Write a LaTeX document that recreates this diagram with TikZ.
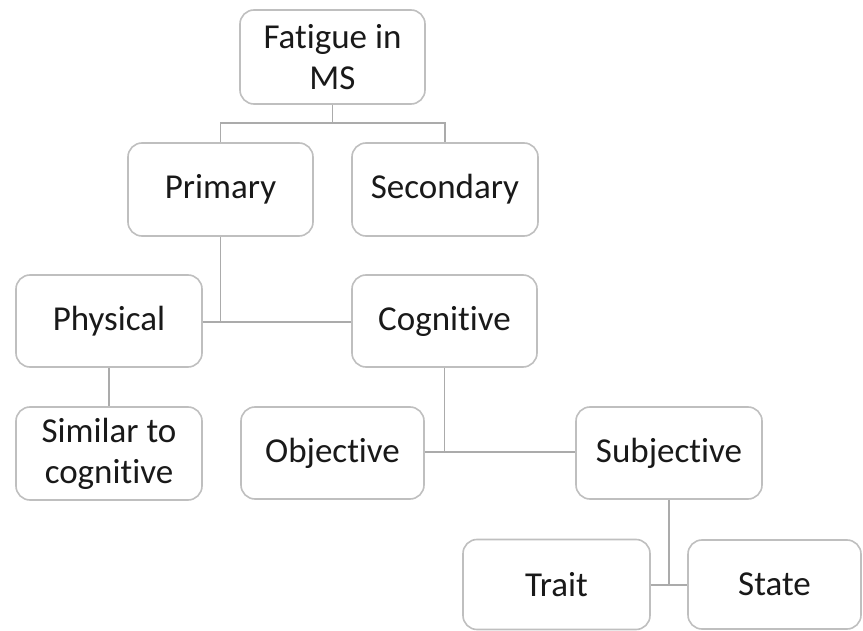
\documentclass[tikz,border=0pt]{standalone}
\usepackage{fontspec}
\setmainfont{Carlito}[RawFeature={-liga,-clig,-dlig,-calt}]
\begin{document}
\begin{tikzpicture}[x=1pt,y=-1pt,
  box/.style={draw=black!25, line width=1.6pt, rounded corners=14pt, fill=white,
    align=center, inner sep=0pt, font=\fontsize{35}{41}\selectfont, text=black!90},
  conn/.style={draw=black!33, line width=1.8pt}]
\useasboundingbox (0,0) rectangle (863,631);
\node[box, minimum width=185, minimum height=94] (fat) at (332.5,57) {Fatigue in\\MS};
\node[box, minimum width=185, minimum height=93] (pri) at (220.5,189.5) {Primary};
\node[box, minimum width=186, minimum height=93] (sec) at (445,189.5) {Secondary};
\node[box, minimum width=186, minimum height=92] (phy) at (109,321) {Physical};
\node[box, minimum width=185, minimum height=92] (cog) at (444.5,321) {Cognitive};
\node[box, minimum width=186, minimum height=93] (sim) at (109,453.5) {Similar to\\cognitive};
\node[box, minimum width=183, minimum height=92] (obj) at (332.5,453) {Objective};
\node[box, minimum width=186, minimum height=92] (sub) at (669,453) {Subjective};
\node[box, minimum width=187, minimum height=90] (tra) at (556.5,584.5) {Trait};
\node[box, minimum width=173, minimum height=89] (sta) at (774.5,584.5) {State};
\coordinate (j1) at (332.5,123);
\coordinate (j2) at (220.5,322);
\coordinate (j3) at (444.5,452);
\coordinate (j4) at (669,585);
\draw[conn] (fat.south) -- (j1);
\draw[conn] (pri.north) |- (j1) -| (sec.north);
\draw[conn] (pri.south) -- (j2);
\draw[conn] (phy.east |- j2) -- (cog.west |- j2);
\draw[conn] (phy.south) -- (sim.north);
\draw[conn] (cog.south) -- (j3);
\draw[conn] (obj.east |- j3) -- (sub.west |- j3);
\draw[conn] (sub.south) -- (j4);
\draw[conn] (tra.east |- j4) -- (sta.west |- j4);
\end{tikzpicture}
\end{document}
